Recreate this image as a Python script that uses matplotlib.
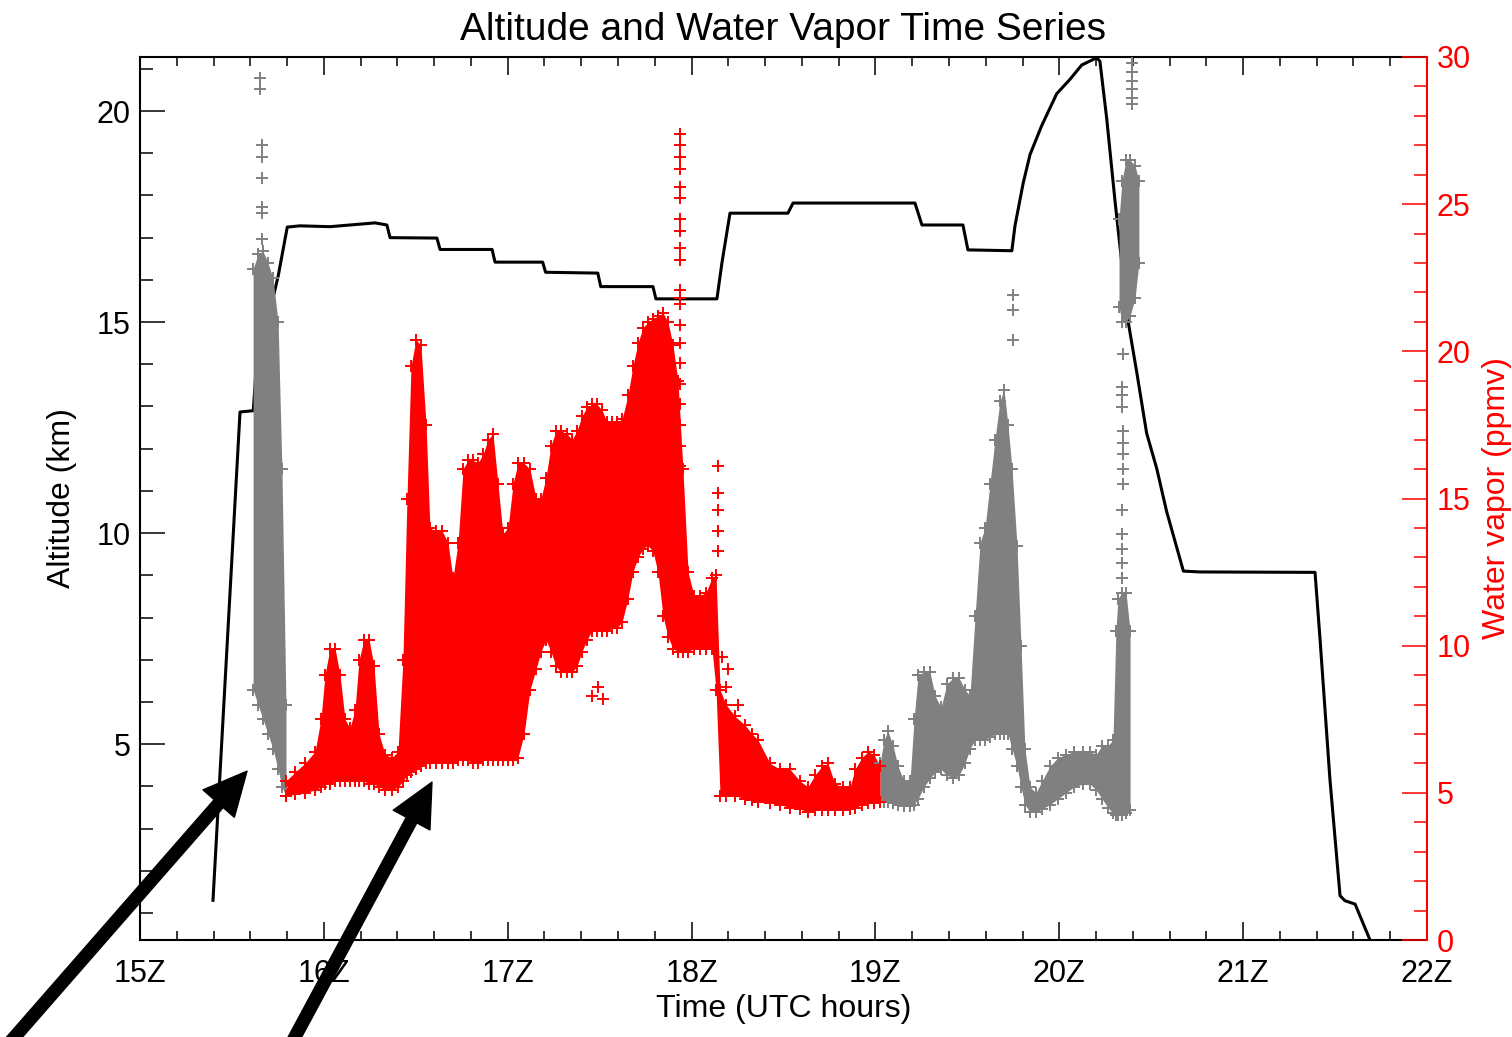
import matplotlib.pyplot as plt
import numpy as np

plt.rcParams['font.family'] = ['Liberation Sans', 'DejaVu Sans']

# aircraft altitude (km) against time (UTC hours)
alt_time = [15.397, 15.544, 15.616, 15.631, 15.752, 15.801, 15.870, 16.033, 16.197, 16.278,
            16.343, 16.360, 16.615, 16.632, 16.915, 16.931, 17.190, 17.206, 17.490, 17.506,
            17.790, 17.806, 18.138, 18.165, 18.209, 18.524, 18.552, 19.215, 19.253, 19.476,
            19.503, 19.742, 19.759, 19.804, 19.841, 19.904, 19.986, 20.058, 20.122, 20.203,
            20.221, 20.258, 20.303, 20.375, 20.421, 20.475, 20.530, 20.584, 20.675, 20.765,
            21.391, 21.418, 21.472, 21.527, 21.554, 21.609, 21.690]
alt_km = [1.30, 12.87, 12.90, 13.85, 16.10, 17.25, 17.28, 17.26, 17.32, 17.35,
          17.30, 17.00, 16.99, 16.72, 16.72, 16.42, 16.42, 16.18, 16.16, 15.84,
          15.84, 15.55, 15.55, 16.40, 17.58, 17.58, 17.82, 17.82, 17.30, 17.30,
          16.71, 16.69, 17.28, 18.30, 18.97, 19.65, 20.41, 20.75, 21.09, 21.26,
          21.18, 19.82, 17.87, 15.00, 13.82, 12.37, 11.53, 10.51, 9.10, 9.08,
          9.07, 7.50, 4.17, 1.41, 1.29, 1.21, 0.36]

# water vapor (ppmv): envelope of the dense '+' cloud, red part
red_time = [15.794, 15.843, 15.897, 15.952, 15.984, 16.006, 16.033, 16.061, 16.088, 16.115,
            16.142, 16.169, 16.191, 16.218, 16.246, 16.273, 16.300, 16.333, 16.371, 16.403,
            16.430, 16.452, 16.474, 16.501, 16.528, 16.556, 16.577, 16.610, 16.643, 16.675,
            16.702, 16.730, 16.757, 16.784, 16.811, 16.838, 16.866, 16.893, 16.920, 16.947,
            16.974, 17.002, 17.029, 17.056, 17.089, 17.121, 17.154, 17.181, 17.208, 17.235,
            17.263, 17.290, 17.322, 17.350, 17.377, 17.404, 17.431, 17.458, 17.486, 17.513,
            17.540, 17.567, 17.594, 17.622, 17.654, 17.681, 17.709, 17.736, 17.763, 17.790,
            17.817, 17.845, 17.872, 17.899, 17.926, 17.953, 17.981, 18.013, 18.046, 18.078,
            18.111, 18.133, 18.155, 18.187, 18.236, 18.291, 18.329, 18.361, 18.427, 18.481,
            18.535, 18.590, 18.633, 18.671, 18.709, 18.742, 18.780, 18.824, 18.862, 18.889,
            18.927, 18.960, 18.992, 19.025]
red_low = [4.9, 4.95, 5.0, 5.1, 5.2, 5.3, 5.3, 5.4, 5.4, 5.4,
           5.4, 5.4, 5.4, 5.4, 5.3, 5.3, 5.2, 5.1, 5.1, 5.2,
           5.4, 5.6, 5.7, 5.8, 5.9, 6.0, 6.0, 6.0, 6.0, 6.0,
           6.0, 6.1, 6.1, 6.1, 6.0, 6.0, 6.1, 6.1, 6.1, 6.1,
           6.1, 6.1, 6.1, 6.2, 7.0, 8.5, 9.2, 9.8, 10.2, 9.8,
           9.3, 9.1, 9.1, 9.1, 9.3, 9.8, 10.2, 10.5, 10.5, 10.5,
           10.5, 10.6, 10.6, 10.8, 11.6, 12.5, 13.0, 13.3, 13.4, 13.2,
           12.5, 11.0, 10.3, 9.9, 9.8, 9.8, 9.8, 9.9, 9.9, 9.9,
           9.9, 8.5, 4.9, 4.9, 4.9, 4.8, 4.75, 4.7, 4.65, 4.6,
           4.5, 4.45, 4.35, 4.4, 4.4, 4.4, 4.4, 4.4, 4.45, 4.5,
           4.6, 4.65, 4.65, 4.7]
red_high = [5.4, 5.7, 6.0, 6.4, 7.5, 9.0, 9.9, 9.9, 9.0, 7.5,
            7.2, 7.8, 9.5, 10.2, 10.2, 9.3, 7.0, 6.3, 6.2, 6.4,
            9.5, 15.0, 19.5, 20.4, 20.2, 17.5, 14.0, 13.9, 13.9, 13.5,
            12.3, 13.5, 16.0, 16.3, 16.3, 16.2, 16.5, 17.0, 17.2, 15.5,
            13.8, 14.0, 15.5, 16.2, 16.2, 16.0, 15.0, 15.0, 15.7, 16.8,
            17.3, 17.3, 17.2, 17.0, 17.3, 17.8, 18.1, 18.2, 18.2, 18.0,
            17.6, 17.6, 17.6, 17.7, 18.5, 19.5, 20.3, 20.8, 21.0, 21.1,
            21.2, 21.3, 21.0, 20.2, 19.0, 16.0, 12.5, 11.7, 11.7, 11.8,
            12.3, 12.4, 8.5, 8.0, 7.6, 7.3, 7.0, 6.8, 6.0, 5.8,
            5.8, 5.4, 5.2, 5.6, 5.9, 6.0, 5.3, 5.2, 5.2, 5.8,
            6.2, 6.4, 6.3, 5.9]

# grey part during the first climb
grey1_time = [15.615, 15.642, 15.669, 15.696, 15.723, 15.751, 15.772, 15.794]
grey1_low = [8.5, 8.0, 7.5, 7.0, 6.5, 5.8, 5.2, 4.9]
grey1_high = [22.8, 23.3, 23.4, 23.0, 22.5, 21.0, 16.0, 8.0]

# grey part after 19Z
grey2_time = [19.025, 19.047, 19.068, 19.096, 19.123, 19.155, 19.188, 19.210, 19.232, 19.264,
              19.297, 19.324, 19.357, 19.389, 19.422, 19.455, 19.487, 19.514, 19.542, 19.569,
              19.596, 19.623, 19.650, 19.677, 19.699, 19.721, 19.743, 19.770, 19.792, 19.813,
              19.841, 19.873, 19.906, 19.949, 19.993, 20.036, 20.080, 20.129, 20.167, 20.200,
              20.232, 20.265, 20.292, 20.308, 20.319, 20.341, 20.363, 20.385]
grey2_low = [4.7, 4.7, 4.7, 4.65, 4.6, 4.55, 4.55, 4.6, 4.8, 5.2,
             5.5, 5.7, 5.8, 5.6, 5.5, 5.6, 6.0, 6.5, 6.8, 6.8,
             6.8, 6.9, 7.0, 7.0, 7.0, 7.0, 6.5, 5.9, 5.2, 4.6,
             4.35, 4.35, 4.45, 4.6, 4.8, 5.0, 5.2, 5.3, 5.3, 5.1,
             4.8, 4.5, 4.3, 4.25, 4.25, 4.25, 4.3, 4.4]
grey2_high = [6.0, 6.8, 7.1, 6.6, 5.9, 5.4, 5.4, 7.5, 9.0, 9.1,
              9.1, 8.3, 7.9, 8.7, 8.9, 8.9, 8.5, 8.3, 11.0, 13.5,
              14.0, 15.5, 17.0, 18.3, 18.7, 17.5, 16.0, 13.4, 10.0, 6.5,
              5.2, 5.0, 5.4, 5.9, 6.2, 6.3, 6.4, 6.4, 6.4, 6.3,
              6.6, 6.6, 6.8, 10.5, 11.6, 11.8, 11.8, 10.5]

# dense grey cluster high up during the descent
grey3_time = [20.325, 20.341, 20.363, 20.385, 20.412, 20.433]
grey3_low = [21.5, 21.0, 21.0, 21.2, 21.8, 23.0]
grey3_high = [24.5, 25.8, 26.5, 26.5, 26.3, 25.8]

# isolated points
grey_out_time = [15.653, 15.653, 15.664, 15.664, 15.664, 15.664, 15.664, 15.664,
                 19.748, 19.748, 19.748,
                 20.395, 20.395, 20.395, 20.395, 20.395, 20.395,
                 20.347, 20.341, 20.341, 20.341, 20.347, 20.347, 20.347, 20.347, 20.347,
                 20.341, 20.341, 20.341, 20.341, 20.341]
grey_out_val = [29.3, 28.9, 27.0, 26.6, 25.9, 24.9, 24.7, 23.8,
                21.9, 21.4, 20.4,
                29.8, 29.5, 29.2, 28.9, 28.6, 28.4,
                19.9, 18.8, 18.5, 18.1, 17.3, 16.9, 16.5, 16.0, 15.5,
                14.6, 13.8, 13.3, 12.8, 12.3]
red_out_time = [17.937] * 21 + [18.144] * 5 + [18.166, 18.198, 18.187, 18.253, 17.458, 17.491, 17.518]
red_out_val = [27.4, 27.0, 26.6, 26.2, 25.6, 25.2, 24.5, 24.1, 23.5, 23.1, 22.1, 21.8, 21.6,
               20.9, 20.3, 19.6, 18.9, 18.2, 17.5, 16.8, 16.1,
               16.1, 15.2, 14.6, 13.9, 13.2,
               9.6, 9.2, 8.6, 8.0, 8.3, 8.6, 8.2]

hour_ticks = [15, 16, 17, 18, 19, 20, 21, 22]
hour_labels = ['15Z', '16Z', '17Z', '18Z', '19Z', '20Z', '21Z', '22Z']

RED = '#ff0000'
GREY = '#808080'

fig = plt.figure(figsize=(15.12, 10.37), dpi=100)
ax = fig.add_axes([140 / 1512, 97 / 1037, 1287 / 1512, 883 / 1037])
ax.plot(alt_time, alt_km, color='black', lw=2.2)

ax2 = ax.twinx()
for t, lo, hi, c in [(grey1_time, grey1_low, grey1_high, GREY),
                     (grey2_time, grey2_low, grey2_high, GREY),
                     (grey3_time, grey3_low, grey3_high, GREY),
                     (red_time, red_low, red_high, RED)]:
    ax2.fill_between(t, lo, hi, color=c, lw=0)
    ax2.plot(t, lo, '+', color=c, ms=9, mew=1.4)
    ax2.plot(t, hi, '+', color=c, ms=9, mew=1.4)
ax2.plot(grey_out_time, grey_out_val, '+', color=GREY, ms=9, mew=1.4)
ax2.plot(red_out_time, red_out_val, '+', color=RED, ms=9, mew=1.4)

# x axis
ax.set_xlim(15, 22)
ax.set_xticks(hour_ticks)
ax.set_xticklabels(hour_labels)
ax.set_xticks(np.arange(15, 22.01, 0.2), minor=True)
ax.tick_params(axis='x', which='both', direction='in', top=True, bottom=True,
               labelsize=22, pad=14, width=1.1)
ax.tick_params(axis='x', which='major', length=13)
ax.tick_params(axis='x', which='minor', length=6.5)

# left axis
ax.set_ylim(0.36, 21.28)
ax.set_yticks([5, 10, 15, 20])
ax.set_yticks(range(1, 22), minor=True)
ax.tick_params(axis='y', which='both', direction='in', left=True, right=False,
               labelsize=22, pad=7, width=1.1)
ax.tick_params(axis='y', which='major', length=18)
ax.tick_params(axis='y', which='minor', length=9.5)

# right axis
ax2.set_ylim(0, 30)
ax2.set_yticks(range(0, 31, 5))
ax2.set_yticks(range(0, 31), minor=True)
ax2.tick_params(axis='y', which='both', direction='in', colors=RED,
                labelsize=22, pad=7, width=1.1)
ax2.tick_params(axis='y', which='major', length=18)
ax2.tick_params(axis='y', which='minor', length=9.5)

for s in ['left', 'top', 'bottom']:
    ax.spines[s].set_linewidth(1.5)
    ax2.spines[s].set_visible(False)
ax.spines['right'].set_visible(False)
ax2.spines['right'].set_color(RED)
ax2.spines['right'].set_linewidth(1.5)

ax.set_title('Altitude and Water Vapor Time Series', fontsize=28, pad=12)
ax.set_xlabel('Time (UTC hours)', fontsize=23, labelpad=3)
ax.set_ylabel('Altitude (km)', fontsize=23, labelpad=14)
ax2.set_ylabel('Water vapor (ppmv)', fontsize=23, color=RED, labelpad=8)

# pointer arrows: tips in data coords, tails off the bottom edge
arrow_tips = [(15.582, 4.36), (16.588, 4.10)]
arrow_tails = [(5, -11), (289, -11)]
for tip, tail in zip(arrow_tips, arrow_tails):
    ax2.annotate('', xy=tip, xycoords=ax.transData, xytext=tail,
                 textcoords='figure pixels', annotation_clip=False,
                 arrowprops=dict(arrowstyle='simple,head_length=0.31,head_width=0.30,tail_width=0.086',
                                 mutation_scale=100, color='black', shrinkA=0, shrinkB=0))

fig.savefig('out.png', dpi=100)
